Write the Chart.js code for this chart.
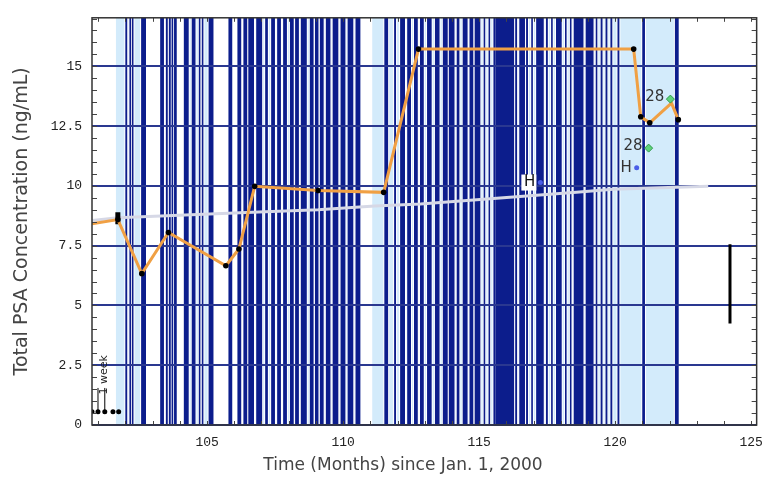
<!DOCTYPE html>
<html>
<head>
<meta charset="utf-8">
<script src="https://cdn.jsdelivr.net/npm/chart.js@4.4.1/dist/chart.umd.min.js"></script>
<style>
  html, body { margin: 0; background: #fff; }
</style>
</head>
<body>
<canvas id="psaChart" width="773" height="479"></canvas>
<script>
const xTicks = [105, 110, 115, 120, 125];
const yTicks = [0, 2.5, 5, 7.5, 10, 12.5, 15];

// PSA measurements (orange line, black dots)
const psaMonths = [100.77, 101.72, 102.6, 103.58, 105.69, 106.17, 106.75, 109.08, 111.49, 112.77, 120.68, 120.94, 121.27, 122.07, 122.32];
const psaValues = [8.42, 8.59, 6.33, 8.05, 6.66, 7.36, 9.98, 9.81, 9.73, 15.72, 15.72, 12.89, 12.64, 13.46, 12.77];
const psaNoDot = [0, 13];

// slowly rising reference (grey line)
const refMonths = [100.77, 101.72, 106.9, 109.08, 111.16, 112.84, 115.28, 118.57, 119.92, 123.42];
const refValues = [8.55, 8.67, 8.91, 9.0, 9.16, 9.24, 9.45, 9.73, 9.86, 9.98];

// "28" markers and "H" markers
const day28Months = [121.23, 122.03];
const day28Values = [11.58, 13.63];
const hMonths = [120.79, 117.25];
const hValues = [10.76, 10.14];

// one-week scale at bottom left
const weekMonths = [100.77, 100.99, 101.24, 101.54, 101.75];
const weekValue = 0.55;
const weekBarTop = 1.55;

// black bars
const startBar = { month: 101.72, from: 8.4, to: 8.9 };
const endBar = { month: 124.22, from: 4.24, to: 7.56 };

// light blue periods
const treatmentSpans = [[101.65, 102.74], [104.16, 105.22], [106.53, 110.62], [111.07, 122.32]];

// dark blue events [start, end] in months
const doseSpans = [
  [102.01, 102.05], [102.16, 102.19], [102.25, 102.28], [102.59, 102.74], [103.29, 103.40],
  [103.50, 103.54], [103.61, 103.65], [103.71, 103.74], [103.80, 103.87], [104.16, 104.31],
  [104.45, 104.56], [104.71, 104.74], [104.82, 104.85], [105.07, 105.22], [105.80, 105.91],
  [106.13, 106.24], [106.35, 106.46],
  [106.53, 106.71], [106.82, 107.01], [107.15, 107.22], [107.37, 107.48], [107.59, 107.70],
  [107.81, 107.92], [108.06, 108.17], [108.25, 108.36], [108.46, 108.65], [108.79, 108.90],
  [108.98, 109.08], [109.16, 109.27], [109.38, 109.52], [109.63, 109.81], [109.92, 110.07],
  [110.18, 110.36], [110.47, 110.62],
  [111.53, 111.64], [111.89, 111.93],
  [112.11, 112.26], [112.37, 112.48], [112.62, 112.73], [112.84, 112.95], [113.10, 113.24],
  [113.39, 113.53], [113.68, 113.83], [113.90, 114.08], [114.19, 114.26], [114.41, 114.56],
  [114.66, 114.77], [114.85, 115.03], [115.18, 115.21], [115.36, 115.39], [115.54, 115.58],
  [115.61, 116.27],
  [116.34, 116.38], [116.49, 116.67], [116.74, 116.78], [116.93, 116.96], [117.11, 117.36],
  [117.47, 117.51], [117.66, 117.69], [117.84, 118.02], [118.17, 118.20], [118.35, 118.38],
  [118.49, 118.82], [118.93, 119.19], [119.30, 119.33], [119.48, 119.52], [119.66, 119.70],
  [119.84, 119.88],
  [120.10, 120.14], [121.01, 121.08], [122.21, 122.32]
];

const NAVY = "#0c1d8c";
const pts = (xs, ys) => xs.map((m, i) => ({ x: m, y: Array.isArray(ys) ? ys[i] : ys }));

const backdrop = {
  id: "backdrop",
  beforeDraw(chart) {
    const { ctx, chartArea: a, scales: { x } } = chart;
    ctx.save();
    ctx.fillStyle = "#fff";
    ctx.fillRect(0, 0, chart.width, chart.height);
    ctx.beginPath();
    ctx.rect(a.left, a.top, a.right - a.left, a.bottom - a.top);
    ctx.clip();
    const h = a.bottom - a.top;
    ctx.fillStyle = "#d3ebfb";
    treatmentSpans.forEach(([s, e]) => {
      const x0 = x.getPixelForValue(s), x1 = x.getPixelForValue(e);
      ctx.fillRect(x0, a.top, x1 - x0, h);
    });
    const boxes = doseSpans.map(([s, e]) => {
      let x0 = x.getPixelForValue(s) - 0.4, x1 = x.getPixelForValue(e) + 0.4;
      if (x1 - x0 < 1.6) { const c = (x0 + x1) / 2; x0 = c - 0.8; x1 = c + 0.8; }
      return [x0, x1];
    });
    ctx.fillStyle = "#fff";
    boxes.forEach(([x0, x1]) => ctx.fillRect(x0 - 1, a.top, x1 - x0 + 2, h));
    ctx.fillStyle = NAVY;
    boxes.forEach(([x0, x1]) => ctx.fillRect(x0, a.top, x1 - x0, h));
    ctx.restore();
  }
};

const frame = {
  id: "frame",
  afterDraw(chart) {
    const { ctx, chartArea: a, scales: { x, y } } = chart;
    ctx.save();
    ctx.strokeStyle = "#444";
    ctx.lineWidth = 1;
    ctx.beginPath();
    for (let v = 0; v <= 17; v += 0.5) {
      const py = Math.round(y.getPixelForValue(v)) + 0.5;
      ctx.moveTo(a.left, py); ctx.lineTo(a.left + 5, py);
      ctx.moveTo(a.right, py); ctx.lineTo(a.right - 5, py);
    }
    for (let m = 101; m <= 125; m++) {
      const px = Math.round(x.getPixelForValue(m)) + 0.5;
      ctx.moveTo(px, a.bottom); ctx.lineTo(px, a.bottom - 4);
      ctx.moveTo(px, a.top); ctx.lineTo(px, a.top + 4);
    }
    ctx.stroke();
    ctx.strokeStyle = "#333";
    ctx.lineWidth = 1.5;
    ctx.strokeRect(a.left, a.top, a.right - a.left, a.bottom - a.top);
    ctx.restore();
  }
};

const labels = {
  id: "labels",
  afterDatasetsDraw(chart) {
    const { ctx, chartArea: a, scales: { x, y } } = chart;
    ctx.save();
    ctx.font = "15px 'DejaVu Sans'";
    ctx.textAlign = "right";
    ctx.textBaseline = "middle";
    ctx.fillStyle = "#333";
    day28Months.forEach((m, i) => {
      ctx.fillText("28", x.getPixelForValue(m) - 6, y.getPixelForValue(day28Values[i]) - 2);
    });
    hMonths.forEach((m, i) => {
      const px = x.getPixelForValue(m) - 5, py = y.getPixelForValue(hValues[i]);
      if (i === 1) {
        ctx.fillStyle = "#fff";
        ctx.fillRect(px - 14, py - 8, 15, 16);
        ctx.fillStyle = "#111";
      }
      ctx.fillText("H", px, py);
    });
    // one week note
    ctx.save();
    ctx.translate(x.getPixelForValue(101.2), y.getPixelForValue(2.1));
    ctx.rotate(-Math.PI / 2);
    ctx.textAlign = "center";
    ctx.font = "11px 'DejaVu Sans'";
    ctx.fillStyle = "#222";
    ctx.fillText("1 week", 0, 0);
    ctx.restore();
    // axis titles
    ctx.fillStyle = "#444";
    ctx.textAlign = "center";
    ctx.font = "17px 'DejaVu Sans'";
    ctx.fillText("Time (Months) since Jan. 1, 2000", 403, 466);
    ctx.save();
    ctx.translate(22, (a.top + a.bottom) / 2);
    ctx.rotate(-Math.PI / 2);
    ctx.font = "19px 'DejaVu Sans'";
    ctx.fillText("Total PSA Concentration (ng/mL)", 0, 0);
    ctx.restore();
    ctx.restore();
  }
};

const tickFont = { family: "'Liberation Mono', monospace", size: 13 };

new Chart(document.getElementById("psaChart"), {
  type: "scatter",
  data: {
    datasets: [
      { data: pts(hMonths, hValues), pointRadius: 2.5, pointBackgroundColor: "#4a5ee8", pointBorderWidth: 0 },
      { data: pts(day28Months, day28Values), pointStyle: "rectRot", pointRadius: 4,
        pointBackgroundColor: "#5fd37a", pointBorderColor: "#2f9a4a", pointBorderWidth: 1 },
      { data: pts(weekMonths, weekValue), pointRadius: 2.5, pointBackgroundColor: "#000", pointBorderWidth: 0 },
      { data: pts(psaMonths, psaValues), showLine: true, borderColor: "#f0a044", borderWidth: 3,
        pointRadius: c => psaNoDot.includes(c.dataIndex) ? 0 : 2.8,
        pointBackgroundColor: "#000", pointBorderWidth: 0 },
      { data: pts([weekMonths[1], weekMonths[1]], [weekValue, weekBarTop]), showLine: true, borderColor: "#000", borderWidth: 1, pointRadius: 0 },
      { data: pts([weekMonths[2], weekMonths[2]], [weekValue, weekBarTop]), showLine: true, borderColor: "#000", borderWidth: 1, pointRadius: 0 },
      { data: pts([startBar.month, startBar.month], [startBar.from, startBar.to]), showLine: true, borderColor: "#000", borderWidth: 5, pointRadius: 0 },
      { data: pts([endBar.month, endBar.month], [endBar.from, endBar.to]), showLine: true, borderColor: "#000", borderWidth: 3, pointRadius: 0 },
      { data: pts(refMonths, refValues), showLine: true, borderColor: "#d6d8e6", borderWidth: 3, pointRadius: 0 }
    ]
  },
  options: {
    responsive: false,
    animation: false,
    devicePixelRatio: 1,
    layout: { padding: { top: 10, right: 11, left: 0, bottom: 0 } },
    plugins: { legend: { display: false }, tooltip: { enabled: false } },
    scales: {
      x: {
        type: "linear", min: 100.77, max: 125.2,
        afterBuildTicks: s => { s.ticks = xTicks.map(v => ({ value: v })); },
        afterFit: s => { s.height = 54; },
        grid: { display: false, drawTicks: false },
        border: { display: false },
        ticks: { font: tickFont, color: "#222", padding: 10, maxRotation: 0, autoSkip: false, callback: v => String(v) }
      },
      y: {
        min: 0, max: 17.03,
        afterBuildTicks: s => { s.ticks = yTicks.map(v => ({ value: v })); },
        afterFit: s => { s.width = 92; },
        grid: { color: "#2a3890", lineWidth: 2, drawTicks: false },
        border: { display: false },
        ticks: { font: tickFont, color: "#222", padding: 10, callback: v => String(v) }
      }
    }
  },
  plugins: [backdrop, frame, labels]
});
</script>
</body>
</html>
